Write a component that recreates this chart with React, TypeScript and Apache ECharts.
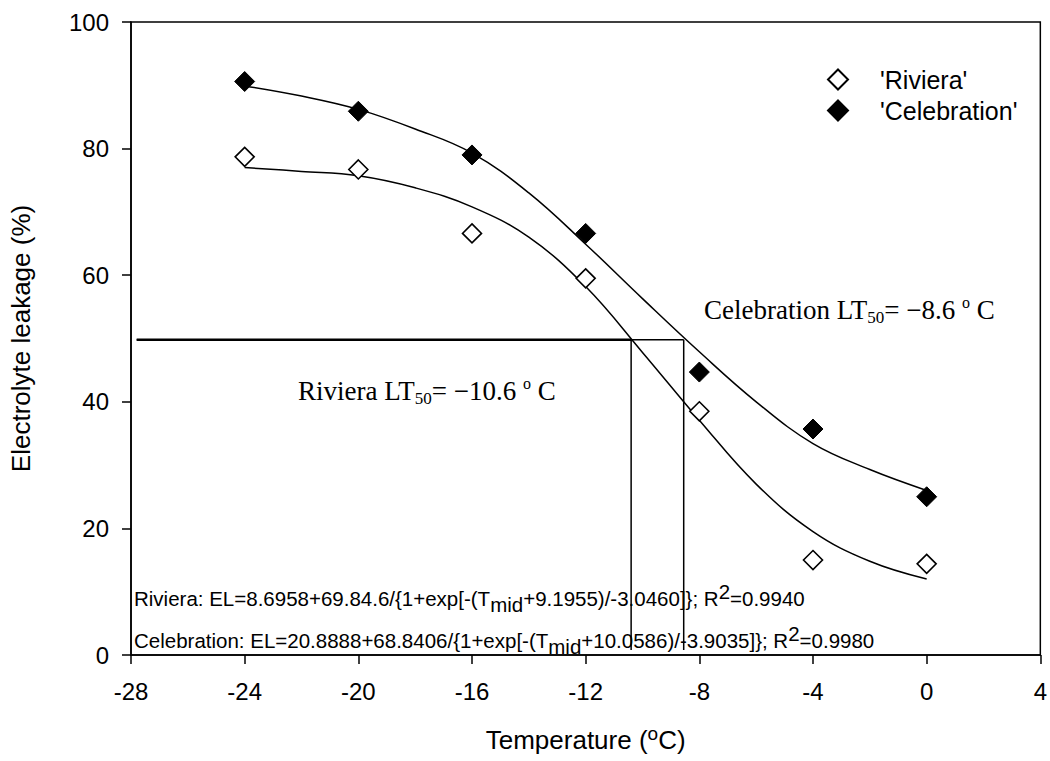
import React, { useEffect, useRef } from "react";
import * as echarts from "echarts";

const temps = [-24, -20, -16, -12, -8, -4, 0];
const rivieraValues = [78.7, 76.7, 66.6, 59.5, 38.5, 15.0, 14.4];
const celebrationValues = [90.6, 85.9, 79.0, 66.6, 44.7, 35.7, 25.0];

const fitTemps = [-24, -22, -20, -18, -16, -14, -12, -10, -8, -6, -4, -2, 0];
const rivieraFit = [77.0, 76.4, 75.7, 73.8, 70.8, 66.0, 58.2, 47.8, 37.1, 27.0, 19.5, 14.8, 12.0];
const celebrationFit = [89.9, 88.3, 86.2, 83.1, 79.3, 73.0, 64.9, 56.3, 47.9, 40.0, 33.4, 29.3, 26.0];

const lt50Level = 49.8;
const rivieraLT = -10.4;
const celebrationLT = -8.55;
const lineBottom = 0.8;
const xStart = -27.8;

const xTicks = { min: -28, max: 4, interval: 4 };
const yTicks = { min: 0, max: 100, interval: 20 };

const SANS = "'Liberation Sans', Arial, Helvetica, sans-serif";
const SERIF = "'Liberation Serif', 'Times New Roman', Times, serif";

export default function App() {
  const ref = useRef<HTMLDivElement>(null);
  useEffect(() => {
    if (!ref.current) return;
    const chart = echarts.init(ref.current, null, { renderer: "svg" });
    const pair = (xs: number[], ys: number[]) => xs.map((x, i) => [x, ys[i]]);
    const thin = { color: "#000", width: 1.5 };
    const eqRich = {
      sub: { fontSize: 20.5, fontFamily: SANS, fill: "#000", color: "#000", lineHeight: 20, verticalAlign: "bottom" },
      sup: { fontSize: 20.5, fontFamily: SANS, fill: "#000", color: "#000", lineHeight: 20, verticalAlign: "top" },
    };
    const ltRich = {
      sub: { fontSize: 17, fontFamily: SERIF, fill: "#000", color: "#000", lineHeight: 18, verticalAlign: "bottom" },
      sup: { fontSize: 16, fontFamily: SERIF, fill: "#000", color: "#000", lineHeight: 16, verticalAlign: "top" },
    };
    chart.setOption({
      animation: false,
      backgroundColor: "#fff",
      grid: {
        left: 122, right: 7, top: 22, bottom: 90,
        show: true, borderColor: "#000", borderWidth: 1.5, backgroundColor: "transparent",
      },
      legend: {
        orient: "vertical",
        left: 822,
        top: 62,
        itemWidth: 20,
        itemHeight: 20,
        itemGap: 6,
        selectedMode: false,
        data: ["'Riviera'", "'Celebration'"],
        textStyle: { fontFamily: SANS, fontSize: 25, color: "#000", padding: [0, 0, 0, 27], lineHeight: 20 },
      },
      xAxis: {
        type: "value",
        min: xTicks.min, max: xTicks.max, interval: xTicks.interval,
        name: "Temperature ({sup|o}C)",
        nameLocation: "middle",
        nameGap: 69,
        nameTextStyle: {
          fontFamily: SANS, fontSize: 26, color: "#000", lineHeight: 32,
          rich: { sup: { fontFamily: SANS, fontSize: 19, color: "#000", lineHeight: 19, verticalAlign: "top" } },
        },
        axisLine: { onZero: false, lineStyle: { color: "#000", width: 1.5 } },
        axisTick: { length: 9, lineStyle: { color: "#000", width: 1.5 } },
        axisLabel: { fontFamily: SANS, fontSize: 24, color: "#000", margin: 24 },
        splitLine: { show: false },
      },
      yAxis: {
        type: "value",
        min: yTicks.min, max: yTicks.max, interval: yTicks.interval,
        name: "Electrolyte leakage (%)",
        nameLocation: "middle",
        nameGap: 97,
        nameTextStyle: { fontFamily: SANS, fontSize: 26, color: "#000" },
        axisLine: { onZero: false, lineStyle: { color: "#000", width: 1.5 } },
        axisTick: { length: 9, lineStyle: { color: "#000", width: 1.5 } },
        axisLabel: { fontFamily: SANS, fontSize: 24, color: "#000", margin: 22 },
        splitLine: { show: false },
      },
      graphic: [
        {
          type: "text", left: 704, top: 294, silent: true,
          style: {
            text: "Celebration LT{sub|50}= \u22128.6 {sup|o} C",
            fontFamily: SERIF, fontSize: 27, fill: "#000", lineHeight: 32, rich: ltRich,
          },
        },
        {
          type: "text", left: 298, top: 375, silent: true,
          style: {
            text: "Riviera LT{sub|50}= \u221210.6 {sup|o} C",
            fontFamily: SERIF, fontSize: 27, fill: "#000", lineHeight: 32, rich: ltRich,
          },
        },
        {
          type: "text", left: 134, top: 581, silent: true,
          style: {
            text: "Riviera: EL=8.6958+69.84.6/{1+exp[-(T{sub|mid}+9.1955)/-3.0460]}; R{sup|2}=0.9940",
            fontFamily: SANS, fontSize: 20.5, fill: "#000", lineHeight: 34, rich: eqRich,
          },
        },
        {
          type: "text", left: 134, top: 623, silent: true,
          style: {
            text: "Celebration: EL=20.8888+68.8406/{1+exp[-(T{sub|mid}+10.0586)/-3.9035]}; R{sup|2}=0.9980",
            fontFamily: SANS, fontSize: 20.5, fill: "#000", lineHeight: 34, rich: eqRich,
          },
        },
      ],
      series: [
        {
          name: "rivieraFit", type: "line", data: pair(fitTemps, rivieraFit),
          smooth: 0.4, showSymbol: false, lineStyle: thin, silent: true, z: 2,
        },
        {
          name: "celebrationFit", type: "line", data: pair(fitTemps, celebrationFit),
          smooth: 0.4, showSymbol: false, lineStyle: thin, silent: true, z: 2,
        },
        {
          name: "lt50hr", type: "line", data: [[xStart, lt50Level], [rivieraLT, lt50Level]],
          showSymbol: false, lineStyle: { color: "#000", width: 2.3 }, silent: true, z: 2,
        },
        {
          name: "lt50hc", type: "line", data: [[xStart, lt50Level], [celebrationLT, lt50Level]],
          showSymbol: false, lineStyle: thin, silent: true, z: 2,
        },
        {
          name: "lt50r", type: "line", data: [[rivieraLT, lt50Level], [rivieraLT, lineBottom]],
          showSymbol: false, lineStyle: thin, silent: true, z: 2,
        },
        {
          name: "lt50c", type: "line", data: [[celebrationLT, lt50Level], [celebrationLT, lineBottom]],
          showSymbol: false, lineStyle: thin, silent: true, z: 2,
        },
        {
          name: "'Riviera'", type: "scatter", data: pair(temps, rivieraValues),
          symbol: "diamond", symbolSize: 19, z: 5,
          itemStyle: { color: "#fff", borderColor: "#000", borderWidth: 1.6, opacity: 1 },
        },
        {
          name: "'Celebration'", type: "scatter", data: pair(temps, celebrationValues),
          symbol: "diamond", symbolSize: 20, z: 5,
          itemStyle: { color: "#000", borderColor: "#000", borderWidth: 1, opacity: 1 },
        },
      ],
    });
    return () => chart.dispose();
  }, []);
  return (
    <div
      ref={ref}
      style={{ position: "absolute", left: 0, top: 0, width: 1050, height: 761 }}
    />
  );
}
